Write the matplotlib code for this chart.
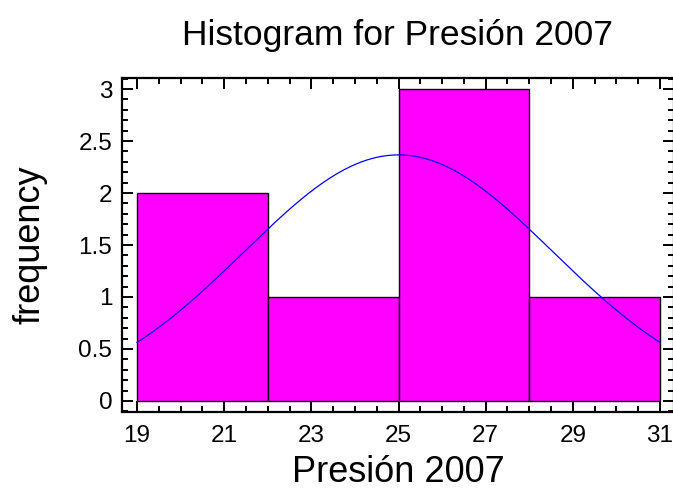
import matplotlib
matplotlib.use("Agg")
import matplotlib.pyplot as plt
import numpy as np
from matplotlib.ticker import MultipleLocator

# histogram counts per class
bin_edges = [19, 22, 25, 28, 31]
counts = [2, 1, 3, 1]
x_ticks = [19, 21, 23, 25, 27, 29, 31]
y_ticks = [0, 0.5, 1, 1.5, 2, 2.5, 3]
y_tick_labels = ["0", "0.5", "1", "1.5", "2", "2.5", "3"]

# fitted normal curve (from the sample)
mu = 25.0
sigma = 3.54
n_obs = 7

plt.rcParams["font.family"] = ["Liberation Sans", "DejaVu Sans"]

fig = plt.figure(figsize=(6.73, 4.97), dpi=100)
ax = fig.add_axes([122 / 673, 1 - 412 / 497, 552 / 673, 334 / 497])

lefts = np.array(bin_edges[:-1])
widths = np.diff(bin_edges)
ax.bar(lefts, counts, width=widths, align="edge", color="#FF00FF",
       edgecolor="black", linewidth=1.0, zorder=2)

xs = np.linspace(bin_edges[0], bin_edges[-1], 300)
bw = widths[0]
ys = n_obs * bw * np.exp(-0.5 * ((xs - mu) / sigma) ** 2) / (sigma * np.sqrt(2 * np.pi))
ax.plot(xs, ys, color="#0000FF", linewidth=0.9, zorder=3)

ax.set_xlim(18.656, 31.32)
ax.set_ylim(-0.106, 3.106)
ax.set_xticks(x_ticks)
ax.xaxis.set_minor_locator(MultipleLocator(0.5))
ax.set_yticks(y_ticks)
ax.set_yticklabels(y_tick_labels)
ax.yaxis.set_minor_locator(MultipleLocator(0.1))

ax.tick_params(which="both", direction="in", top=True, right=True, width=1.4,
               labelsize=17.5)
ax.tick_params(which="major", length=8)
ax.tick_params(which="minor", length=4)
ax.tick_params(axis="x", pad=9)
ax.tick_params(axis="y", pad=7)
for sp in ax.spines.values():
    sp.set_linewidth(1.6)

ax.set_xlabel("Presión 2007", fontsize=26, labelpad=6)
ax.set_ylabel("frequency", fontsize=26, labelpad=22)
ax.set_title("Histogram for Presión 2007", fontsize=25.5, pad=24)

fig.savefig("out.png", dpi=100)
